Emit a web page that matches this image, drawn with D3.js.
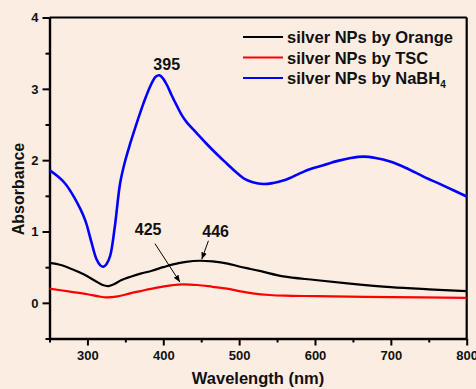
<!DOCTYPE html>
<html>
<head>
<meta charset="utf-8">
<script src="https://cdn.jsdelivr.net/npm/d3@7"></script>
<style>
  body { margin: 0; background: #fcede3; }
  svg { display: block; }
  text { font-family: Arial, "Liberation Sans", sans-serif; font-weight: bold; fill: #111; }
</style>
</head>
<body>
<div id="chart"></div>
<script>
// ---- data (wavelength nm, absorbance) ----
var blueNm  = [250,260,270,283,297,305,312,317,321,325,330,336,343,349,356,365,374,383,390,395,400,405,411,418,425,431,444,457,470,484,495,506,518,532,545,557,567,580,595,611,630,647,664,680,699,720,743,770,800];
var blueAbs = [1.86,1.78,1.68,1.47,1.16,0.86,0.61,0.525,0.505,0.54,0.66,1.06,1.67,1.96,2.22,2.52,2.80,3.04,3.17,3.19,3.14,3.05,2.91,2.76,2.62,2.53,2.38,2.23,2.09,1.95,1.84,1.745,1.69,1.665,1.68,1.71,1.75,1.815,1.88,1.93,1.99,2.03,2.05,2.03,1.98,1.89,1.77,1.64,1.49];

var blackNm  = [250,265,280,295,310,320,328,335,345,358,370,385,400,413,430,448,465,485,500,515,530,558,600,646,700,750,800];
var blackAbs = [0.56,0.53,0.47,0.40,0.31,0.25,0.235,0.26,0.32,0.37,0.41,0.45,0.50,0.54,0.575,0.59,0.58,0.55,0.51,0.475,0.44,0.37,0.32,0.27,0.22,0.19,0.165];

var redNm  = [250,275,300,315,325,340,355,370,390,410,426,445,465,484,500,520,540,560,602,700,800];
var redAbs = [0.20,0.16,0.12,0.09,0.076,0.09,0.13,0.165,0.21,0.245,0.26,0.25,0.225,0.20,0.165,0.13,0.11,0.10,0.094,0.08,0.07];

var seriesNames  = ["silver NPs by Orange", "silver NPs by TSC", "silver NPs by NaBH"];
var seriesColors = ["#000000", "#ff0000", "#0000ff"];

var xMajor = [300,400,500,600,700,800];
var xMinor = [250,350,450,550,650,750];
var yMajor = [0,1,2,3,4];
var yMinor = [-0.5,0.5,1.5,2.5,3.5];

// peak labels: text, label position (nm, abs), arrow start and tip (nm, abs)
var peakLabels = [
  {text: "395", nm: 404.5, abs: 3.26},
  {text: "425", nm: 380, abs: 0.95, from: [389, 0.83], to: [422, 0.29]},
  {text: "446", nm: 469, abs: 0.92, from: [459.5, 0.87], to: [450.7, 0.61]}
];

// ---- layout ----
var W = 476, H = 389;
var svg = d3.select("#chart").append("svg")
  .attr("width", W).attr("height", H);

svg.append("rect").attr("width", W).attr("height", H).attr("fill", "#fcede3");

var x = d3.scaleLinear().domain([250, 800]).range([49.5, 466.7]);
var y = d3.scaleLinear().domain([-0.5, 4]).range([338.5, 17.5]);

// arrow marker
svg.append("defs").append("marker")
  .attr("id", "arr")
  .attr("viewBox", "0 0 10 10")
  .attr("refX", 10).attr("refY", 5)
  .attr("markerWidth", 7).attr("markerHeight", 7)
  .attr("markerUnits", "userSpaceOnUse")
  .attr("orient", "auto")
  .append("path").attr("d", "M0,1 L10,5 L0,9 Z").attr("fill", "#000");

// frame (top and right)
svg.append("line").attr("x1", x(250)).attr("x2", x(800)).attr("y1", y(4)).attr("y2", y(4))
  .attr("stroke", "#000").attr("stroke-width", 2);
svg.append("line").attr("x1", x(800)).attr("x2", x(800)).attr("y1", y(4)).attr("y2", y(-0.5))
  .attr("stroke", "#000").attr("stroke-width", 2.2);

// X axis
svg.append("g").attr("transform", "translate(0," + y(-0.5) + ")")
  .call(d3.axisBottom(x).tickValues(xMajor).tickSize(7).tickPadding(5).tickSizeOuter(0));
svg.append("g").attr("transform", "translate(0," + y(-0.5) + ")")
  .call(d3.axisBottom(x).tickValues(xMinor).tickSize(4).tickFormat("").tickSizeOuter(0))
  .select(".domain").remove();

// Y axis
svg.append("g").attr("transform", "translate(" + x(250) + ",0)")
  .call(d3.axisLeft(y).tickValues(yMajor).tickFormat(d3.format("d")).tickSize(7).tickPadding(4).tickSizeOuter(0));
svg.append("g").attr("transform", "translate(" + x(250) + ",0)")
  .call(d3.axisLeft(y).tickValues(yMinor).tickSize(4).tickFormat("").tickSizeOuter(0))
  .select(".domain").remove();

svg.selectAll(".domain").attr("stroke", "#000").attr("stroke-width", 2.4);
svg.selectAll(".tick line").attr("stroke", "#000").attr("stroke-width", 2);
svg.selectAll(".tick text").style("font-size", "13px").style("font-weight", "bold")
  .style("font-family", "Arial, 'Liberation Sans', sans-serif").attr("fill", "#111");

// axis titles
svg.append("text").attr("x", 258).attr("y", 384).attr("text-anchor", "middle")
  .style("font-size", "16.5px").text("Wavelength (nm)");
svg.append("text").attr("transform", "translate(24,189) rotate(-90)").attr("text-anchor", "middle")
  .style("font-size", "16px").text("Absorbance");

// lines
var line = d3.line()
  .x(function(d) { return x(d[0]); })
  .y(function(d) { return y(d[1]); })
  .curve(d3.curveCatmullRom.alpha(0.5));

function pairs(a, b) { return a.map(function(v, i) { return [v, b[i]]; }); }

svg.append("path").datum(pairs(redNm, redAbs)).attr("d", line)
  .attr("fill", "none").attr("stroke", seriesColors[1]).attr("stroke-width", 2.2);
svg.append("path").datum(pairs(blackNm, blackAbs)).attr("d", line)
  .attr("fill", "none").attr("stroke", seriesColors[0]).attr("stroke-width", 2.2);
svg.append("path").datum(pairs(blueNm, blueAbs)).attr("d", line)
  .attr("fill", "none").attr("stroke", seriesColors[2]).attr("stroke-width", 2.6);

// peak labels and arrows
peakLabels.forEach(function(p) {
  svg.append("text").attr("x", x(p.nm)).attr("y", y(p.abs)).attr("text-anchor", "middle")
    .style("font-size", "16px").text(p.text);
  if (p.from) {
    svg.append("line")
      .attr("x1", x(p.from[0])).attr("y1", y(p.from[1]))
      .attr("x2", x(p.to[0])).attr("y2", y(p.to[1]))
      .attr("stroke", "#000").attr("stroke-width", 1)
      .attr("marker-end", "url(#arr)");
  }
});

// legend
var legend = svg.append("g");
seriesNames.forEach(function(name, i) {
  var ly = 37 + i * 20.5;
  legend.append("line").attr("x1", 243).attr("x2", 283).attr("y1", ly).attr("y2", ly)
    .attr("stroke", seriesColors[i]).attr("stroke-width", 2);
  var t = legend.append("text").attr("x", 287).attr("y", ly + 6).style("font-size", "16.5px").text(name);
  if (i === 2) {
    t.append("tspan").attr("dy", 4).style("font-size", "10px").text("4");
  }
});
</script>
</body>
</html>
